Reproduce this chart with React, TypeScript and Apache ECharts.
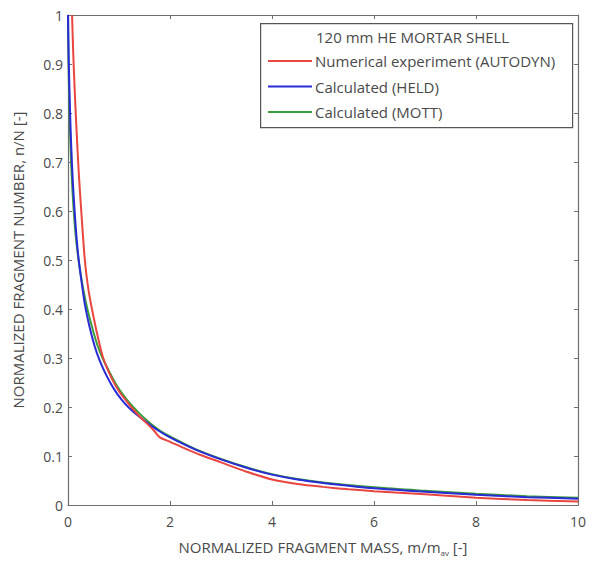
import React, { useEffect, useRef } from "react";
import * as echarts from "echarts";

// Normalized fragment mass (x) vs normalized fragment number (y)
const autodynData: [number, number][] = [
  [0.08, 1.0], [0.1, 0.93], [0.13, 0.85], [0.17, 0.76], [0.21, 0.68],
  [0.26, 0.6], [0.33, 0.5], [0.4, 0.44], [0.47, 0.4], [0.57, 0.35],
  [0.69, 0.3], [0.85, 0.26], [1.0, 0.232], [1.2, 0.205], [1.4, 0.181],
  [1.6, 0.161], [1.7, 0.15], [1.8, 0.138], [2.0, 0.129], [2.3, 0.115],
  [2.6, 0.102], [3.0, 0.087], [3.5, 0.068], [4.0, 0.052], [4.5, 0.043],
  [5.0, 0.037], [5.5, 0.032], [6.0, 0.028], [7.0, 0.022], [8.0, 0.015],
  [9.0, 0.01], [10.0, 0.007],
];
const heldData: [number, number][] = [
  [0.0, 1.0], [0.01, 0.93], [0.03, 0.84], [0.06, 0.74], [0.1, 0.65],
  [0.15, 0.57], [0.2, 0.51], [0.26, 0.46], [0.33, 0.41], [0.42, 0.365],
  [0.52, 0.325], [0.62, 0.295], [0.75, 0.265], [0.9, 0.237], [1.05, 0.215],
  [1.2, 0.198], [1.4, 0.18], [1.6, 0.164], [1.8, 0.15], [2.0, 0.138],
  [2.5, 0.113], [3.0, 0.093], [3.5, 0.076], [4.0, 0.062], [4.5, 0.052],
  [5.0, 0.045], [6.0, 0.034], [7.0, 0.027], [8.0, 0.021], [9.0, 0.016],
  [10.0, 0.013],
];
const mottData: [number, number][] = [
  [0.0, 1.0], [0.01, 0.9], [0.03, 0.8], [0.06, 0.7], [0.1, 0.62],
  [0.15, 0.55], [0.22, 0.49], [0.3, 0.44], [0.38, 0.4], [0.48, 0.36],
  [0.58, 0.325], [0.69, 0.297], [0.82, 0.27], [0.95, 0.245], [1.1, 0.222],
  [1.25, 0.203], [1.4, 0.187], [1.6, 0.168], [1.8, 0.152], [2.0, 0.14],
  [2.5, 0.114], [3.0, 0.094], [3.5, 0.077], [4.0, 0.063], [4.5, 0.053],
  [5.0, 0.046], [6.0, 0.036], [7.0, 0.029], [8.0, 0.023], [9.0, 0.018],
  [10.0, 0.015],
];

const seriesNames = [
  "Numerical experiment (AUTODYN)",
  "Calculated (HELD)",
  "Calculated (MOTT)",
];
const seriesColors = ["#e8463e", "#2a2ad6", "#3a9c3a"];
const legendTitle = "120 mm HE MORTAR SHELL";

const FONT = "'Open Sans', Lato, sans-serif";
const TEXT = "#4a4a4a";
const AXIS = "#6e6e6e";

export default function App() {
  const ref = useRef<HTMLDivElement>(null);

  useEffect(() => {
    if (!ref.current) return;
    const chart = echarts.init(ref.current, undefined, { renderer: "svg" });

    const axisCommon = {
      type: "value" as const,
      axisLine: { show: true, onZero: false, lineStyle: { color: AXIS, width: 1.2 } },
      axisTick: { show: true, inside: true, length: 4, lineStyle: { color: AXIS } },
      splitLine: { show: false },
    };

    chart.setOption({
      animation: false,
      backgroundColor: "#ffffff",
      textStyle: { fontFamily: FONT },
      grid: { left: 68, right: 16, top: 15, bottom: 51, containLabel: false },
      xAxis: [
        {
          ...axisCommon,
          position: "bottom",
          min: 0,
          max: 10,
          interval: 2,
          axisLabel: { color: TEXT, fontSize: 14, fontFamily: FONT, margin: 9 },
          name: "{t|NORMALIZED FRAGMENT MASS, m/m}{s|av}{t| [-]}",
          nameLocation: "middle",
          nameGap: 33,
          nameTextStyle: {
            rich: {
              t: { color: TEXT, fontSize: 15, fontFamily: FONT },
              s: { color: TEXT, fontSize: 8, fontFamily: FONT, padding: [10, 0, 0, 0] },
            },
          },
        },
        {
          ...axisCommon,
          position: "top",
          min: 0,
          max: 10,
          interval: 2,
          axisLabel: { show: false },
        },
      ],
      yAxis: [
        {
          ...axisCommon,
          position: "left",
          min: 0,
          max: 1,
          interval: 0.1,
          axisLabel: {
            color: TEXT,
            fontSize: 14,
            fontFamily: FONT,
            margin: 5,
            formatter: (v: number) => String(Math.round(v * 10) / 10),
          },
          name: "NORMALIZED FRAGMENT NUMBER, n/N [-]",
          nameLocation: "middle",
          nameGap: 43,
          nameRotate: 90,
          nameTextStyle: { color: TEXT, fontSize: 15, fontFamily: FONT },
        },
        {
          ...axisCommon,
          position: "right",
          min: 0,
          max: 1,
          interval: 0.1,
          axisLabel: { show: false },
        },
      ],
      legend: {
        orient: "vertical",
        left: 268,
        top: 53,
        padding: 0,
        itemGap: 9.5,
        itemWidth: 44,
        itemHeight: 2,
        icon: "rect",
        z: 6,
        data: seriesNames,
        textStyle: { color: TEXT, fontSize: 15, fontFamily: FONT, lineHeight: 16, padding: [0, 0, 0, -2] },
      },
      graphic: [
        {
          type: "rect",
          left: 260,
          top: 23,
          shape: { width: 312, height: 104 },
          style: { fill: "#ffffff", stroke: "#555555", lineWidth: 1.2 },
          z: 1,
        },
        {
          type: "text",
          left: 316,
          top: 29,
          style: { text: legendTitle, fill: TEXT, fontSize: 15, fontFamily: FONT },
          z: 6,
        },
      ],
      series: [autodynData, heldData, mottData].map((d, i) => ({
        type: "line",
        name: seriesNames[i],
        data: d,
        xAxisIndex: 0,
        yAxisIndex: 0,
        showSymbol: false,
        symbol: "none",
        smooth: 0.3,
        lineStyle: { color: seriesColors[i], width: 2 },
        itemStyle: { color: seriesColors[i] },
        z: 3 - i,
      })),
    });

    return () => chart.dispose();
  }, []);

  return (
    <div
      ref={ref}
      style={{ position: "fixed", left: 0, top: 0, width: 594, height: 561, background: "#fff" }}
    />
  );
}
